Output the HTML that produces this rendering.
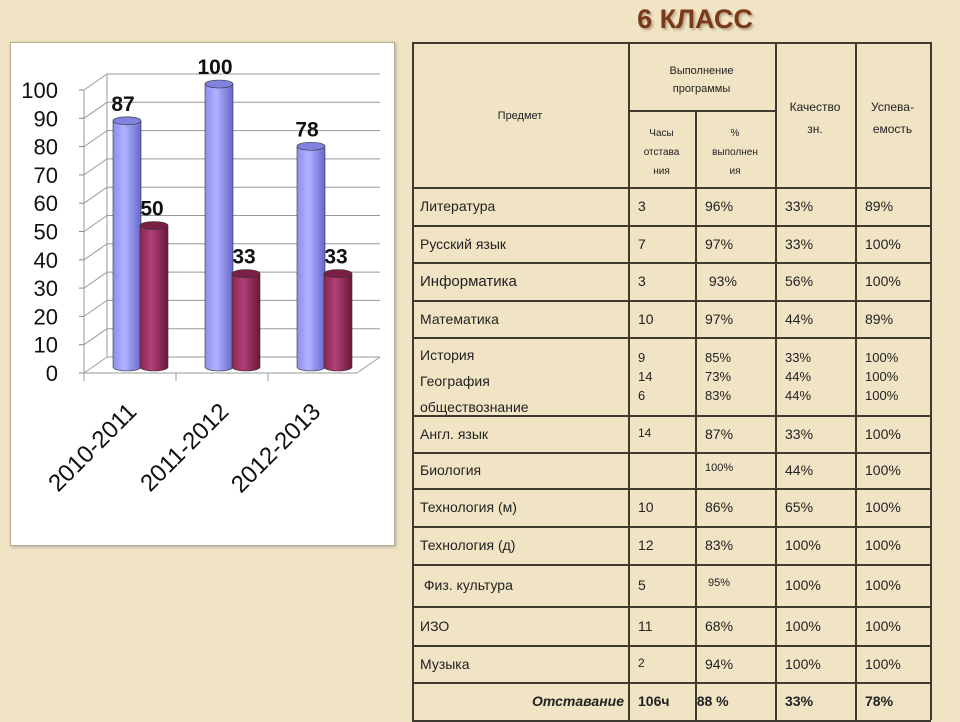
<!DOCTYPE html>
<html><head><meta charset="utf-8">
<style>
body{margin:0;width:960px;height:720px;background:#f0e4c4;position:relative;overflow:hidden;font-family:"Liberation Sans",sans-serif;}
.title{position:absolute;left:600px;top:4px;width:190px;text-align:center;font-size:27px;font-weight:bold;color:#7a3a1a;text-shadow:2px 2px 2px #b9a98a;}
.panel{position:absolute;left:10px;top:42px;width:383px;height:502px;border:1px solid #b9ad8e;background:#fff;box-shadow:1px 1px 3px #aaa;}
.c{position:absolute;font-size:14px;color:#222;white-space:nowrap;}
.l{position:absolute;background:#3e3a30;}
</style></head><body>
<div class="title">6 КЛАСС</div>
<div class="panel"></div>
<svg id="chart" width="960" height="720" style="position:absolute;left:0;top:0">
<defs>
<linearGradient id="gb" x1="0" x2="1"><stop offset="0" stop-color="#8c8ef0"/><stop offset="0.4" stop-color="#b0b2ff"/><stop offset="1" stop-color="#6668cc"/></linearGradient>
<linearGradient id="gm" x1="0" x2="1"><stop offset="0" stop-color="#8a2450"/><stop offset="0.4" stop-color="#b04078"/><stop offset="1" stop-color="#6a1838"/></linearGradient>
</defs>
</svg>
<div id="tbl"></div>
<script>
const categories=["2010-2011","2011-2012","2012-2013"];
const seriesA=[87,100,78];
const seriesB=[50,33,33];
const ticks=[0,10,20,30,40,50,60,70,80,90,100];
const svg=document.getElementById('chart');
const NS='http://www.w3.org/2000/svg';
function mk(t,a){const e=document.createElementNS(NS,t);for(const k in a)e.setAttribute(k,a[k]);svg.appendChild(e);return e;}
const y0=373,ppu=2.83,dx=23,dy=-16,xf=84,xr=380;
function yv(v){return y0-v*ppu;}
ticks.forEach(t=>{
 const g=mk('line',{x1:xf,y1:yv(t),x2:xf+dx,y2:yv(t)+dy,stroke:'#999'});
 
 const h=mk('line',{x1:xf+dx,y1:yv(t)+dy,x2:xr,y2:yv(t)+dy,stroke:'#999'});
 
 const tk=mk('line',{x1:xf-5,y1:yv(t),x2:xf,y2:yv(t),stroke:'#888'});
 
 const tx=mk('text',{x:58,y:yv(t)+8,'text-anchor':'end','font-size':22,fill:'#111','font-family':'Liberation Sans'});
 tx.textContent=t;
});
mk('line',{x1:xf+dx,y1:yv(0)+dy,x2:xf+dx,y2:yv(100)+dy,stroke:'#999'});
mk('line',{x1:xf,y1:y0,x2:xf,y2:yv(100),stroke:'#999'});
mk('line',{x1:xf,y1:y0,x2:xr-23,y2:y0,stroke:'#999'});
mk('line',{x1:xr-23,y1:y0,x2:xr,y2:y0+dy,stroke:'#999'});
const gw=92;
categories.forEach((c,i)=>{
 const tk=mk('line',{x1:xf+gw*i,y1:y0,x2:xf+gw*i,y2:y0+8,stroke:'#999'});
 const tx=mk('text',{x:0,y:0,'text-anchor':'end','font-size':24,fill:'#111','font-family':'Liberation Sans',transform:`translate(${xf+gw*i+54},${y0+40}) rotate(-45)`});
 tx.textContent=c;
 [[seriesA[i],'url(#gb)','#8082e0',113,'blue'],[seriesB[i],'url(#gm)','#7a2044',140,'maroon']].forEach(([v,f,top,x0,n])=>{
  const x=x0+gw*i,w=28,yb=367,yt=367-v*ppu;
  const b=mk('path',{d:`M${x},${yt} L${x},${yb} A${w/2},4 0 0 0 ${x+w},${yb} L${x+w},${yt} Z`,fill:f,stroke:'#333','stroke-width':0.6});
  
  mk('ellipse',{cx:x+w/2,cy:yt,rx:w/2,ry:4,fill:top,stroke:'#333','stroke-width':0.6});
  const lb=mk('text',{x:x+w/2+(n=='blue'?-4:-2),y:yt-10,'text-anchor':'middle','font-size':21,'font-weight':'bold',fill:'#111','font-family':'Liberation Sans'});
  lb.textContent=v;
 });
});
// table
const tbl=document.getElementById('tbl');
function ln(x,y,w,h){const d=document.createElement('div');d.className='l';d.style.cssText=`left:${x}px;top:${y}px;width:${w}px;height:${h}px`;tbl.appendChild(d);}
function tc(x,y,t,s,extra){const d=document.createElement('div');d.className='c';d.style.cssText=`left:${x}px;top:${y}px;`+(s?`font-size:${s}px;`:'')+(extra||'');d.innerHTML=t;tbl.appendChild(d);}
const cols=[412,628,775,855,930];
const rowsY=[42,187,225,262,300,337,415,452,488,526,564,606,645,682,720];
rowsY.forEach(y=>ln(412,y,519,2));
ln(628,110,147,2);
cols.forEach(x=>ln(x,42,2,678));
ln(695,110,2,610);
tc(412,110,'<div style="width:216px;text-align:center">Предмет</div>',11);
tc(628,62,'<div style="width:147px;text-align:center;line-height:18px">Выполнение<br>программы</div>',11);
tc(628,124,'<div style="width:67px;text-align:center;line-height:19px">Часы<br>отстава<br>ния</div>',10);
tc(695,124,'<div style="width:80px;text-align:center;line-height:19px">%<br>выполнен<br>ия</div>',10);
tc(775,96,'<div style="width:80px;text-align:center;line-height:22px">Качество<br>зн.</div>',12);
tc(855,96,'<div style="width:75px;text-align:center;line-height:22px">Успева-<br>емость</div>',12);
const rows=[["Литература","3","96%","33%","89%"],["Русский язык","7","97%","33%","100%"],["Информатика","3","&nbsp;93%","56%","100%"],["Математика","10","97%","44%","89%"],null,["Англ. язык","14","87%","33%","100%"],["Биология","","100%","44%","100%"],["Технология (м)","10","86%","65%","100%"],["Технология (д)","12","83%","100%","100%"],["&nbsp;Физ. культура","5","&nbsp;95%","100%","100%"],["ИЗО","11","68%","100%","100%"],["Музыка","2","94%","100%","100%"]];
rows.forEach((r,i)=>{
 if(!r)return;
 const y=(rowsY[i+1]+rowsY[i+2])/2-8;
 tc(420,y,r[0],i==2?15:14);
 tc(638,y,r[1],(i==5||i==11)?12:14);
 tc(705,y,r[2],i==6||i==9?11:14);
 tc(785,y,r[3]);tc(865,y,r[4]);
});
tc(420,342,'<div style="line-height:26px">История<br>География<br>обществознание</div>');
tc(638,348,'<div style="line-height:19px">9<br>14<br>6</div>',13);
tc(705,348,'<div style="line-height:19px">85%<br>73%<br>83%</div>',13);
tc(785,348,'<div style="line-height:19px">33%<br>44%<br>44%</div>',13);
tc(865,348,'<div style="line-height:19px">100%<br>100%<br>100%</div>',13);
tc(412,693,'<div style="width:212px;text-align:right"><b><i>Отставание</i></b></div>');
tc(638,693,'<b>106ч&nbsp;&nbsp;&nbsp;&nbsp;&nbsp;&nbsp;&nbsp;88 %</b>');
tc(785,693,'<b>33%</b>');tc(865,693,'<b>78%</b>');
</script>
</body></html>
